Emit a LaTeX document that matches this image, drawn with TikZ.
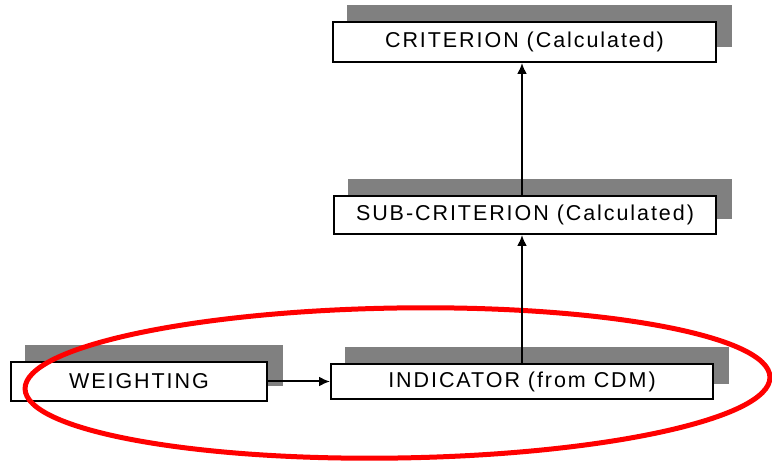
\documentclass[tikz,border=0pt]{standalone}
\usepackage{fontspec}
\newfontfamily\boxfont{Liberation Sans}[LetterSpace=9]
\usetikzlibrary{arrows.meta,backgrounds}
\definecolor{shadowgray}{RGB}{128,128,128}
\definecolor{ringred}{RGB}{255,0,0}
\begin{document}
\begin{tikzpicture}[x=1pt,y=-1pt,
  box/.style={draw=black, line width=2pt, fill=white, inner sep=0pt,
    font=\boxfont\fontsize{21.5}{25}\selectfont, text=black},
  conn/.style={line width=2pt, -{Latex[length=11pt,width=10pt]}},
  ring/.style={draw=ringred, line width=5pt},
  shadowbox/.style={fill=shadowgray}]
\useasboundingbox (0,0) rectangle (772,462);

\node[box, minimum width=383pt, minimum height=40pt] (c) at (524.5,42) {CRITERION (Calculated)};
\node[box, minimum width=382pt, minimum height=38pt] (s) at (525,215) {SUB-CRITERION (Calculated)};
\node[box, minimum width=256pt, minimum height=39pt] (w) at (139,381.5) {WEIGHTING};
\node[box, minimum width=382pt, minimum height=35pt] (i) at (522,381.5) {INDICATOR (from CDM)};

\begin{pgfonlayer}{background}
  \fill[white] (0,0) rectangle (772,462);
  \foreach \n in {c,s,w,i}{
    \fill[shadowbox] ([shift={(15pt,16pt)}]\n.south west) rectangle ([shift={(15pt,16pt)}]\n.north east);
  }
\end{pgfonlayer}

\draw[ring, rotate around={0.9:(397.5,383)}] (397.5,383) ellipse [x radius=372.5, y radius=75];

\draw[conn] (w.east) -- (i.west);
\draw[conn] (i.north) -- (i.north |- s.south);
\draw[conn] (s.north -| i.north) -- (i.north |- c.south);
\end{tikzpicture}
\end{document}
